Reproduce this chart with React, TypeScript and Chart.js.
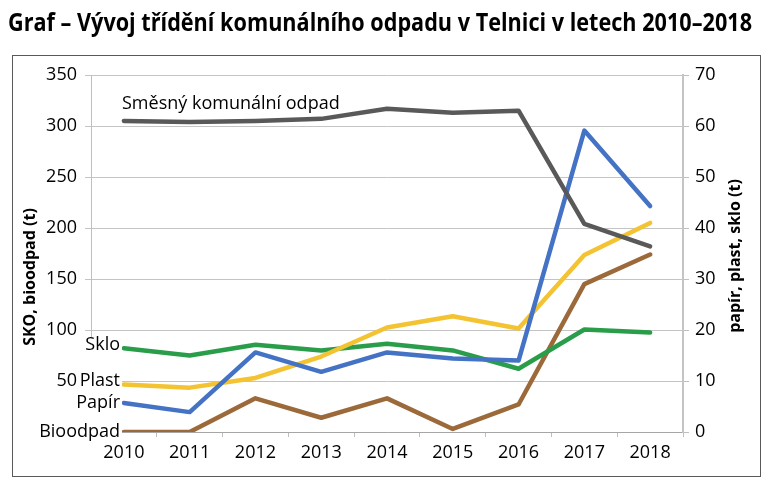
import React, { useEffect, useRef } from "react";
import { Chart, registerables } from "chart.js";

Chart.register(...registerables);

const TITLE = "Graf – Vývoj třídění komunálního odpadu v Telnici v letech 2010–2018";
const years = ["2010", "2011", "2012", "2013", "2014", "2015", "2016", "2017", "2018"];
const smesny = [305, 304, 305, 307, 317, 313, 315, 204, 182];
const bioodpad = [0, 0, 33, 14, 33, 3, 27, 145, 174];
const papir = [5.7, 3.9, 15.6, 11.8, 15.6, 14.4, 14, 59.1, 44.3];
const plast = [9.3, 8.7, 10.6, 14.8, 20.5, 22.7, 20.3, 34.7, 41];
const sklo = [16.4, 15, 17.1, 16, 17.3, 16, 12.4, 20.1, 19.5];
const leftTicks = [0, 50, 100, 150, 200, 250, 300, 350];
const rightTicks = [0, 10, 20, 30, 40, 50, 60, 70];

const FONT = "'Open Sans', 'Noto Sans', sans-serif";

const decor = {
  id: "decor",
  afterDraw(chart: any) {
    const ctx = chart.ctx;
    ctx.save();
    // frame
    ctx.strokeStyle = "#595959";
    ctx.lineWidth = 1;
    ctx.strokeRect(12.5, 55.5, 748, 421);
    // title
    ctx.fillStyle = "#000";
    ctx.font = "bold 25px " + FONT;
    ctx.textAlign = "left";
    ctx.textBaseline = "middle";
    ctx.fillText(TITLE, 8, 24, 744);
    // cover left-bottom axis area for series labels
    ctx.fillStyle = "#fff";
    ctx.fillRect(80, 337, 42, 105);
    ctx.fillRect(40, 420, 82, 22);
    // series labels
    ctx.fillStyle = "#000";
    ctx.font = "18px " + FONT;
    ctx.textAlign = "right";
    const y50 = chart.scales.y.getPixelForValue(50);
    const labels: [number, string, number | null][] = [
      [3, "Sklo", -3],
      [2, "Plast", null],
      [1, "Papír", 0],
      [4, "Bioodpad", 0],
    ];
    for (const [idx, txt, dy] of labels) {
      const p = chart.getDatasetMeta(idx).data[0];
      const yy = dy === null ? y50 : p.y + dy;
      ctx.fillText(txt, 120, yy);
    }
    const p0 = chart.getDatasetMeta(0).data[0];
    ctx.textAlign = "left";
    ctx.fillText("Směsný komunální odpad", 122, p0.y - 17);
    // axis titles
    ctx.font = "bold 16px " + FONT;
    ctx.textAlign = "center";
    ctx.save();
    ctx.translate(30, 277);
    ctx.rotate(-Math.PI / 2);
    ctx.fillText("SKO, bioodpad (t)", 0, 0);
    ctx.restore();
    ctx.save();
    ctx.translate(735, 256);
    ctx.rotate(-Math.PI / 2);
    ctx.fillText("papír, plast, sklo (t)", 0, 0);
    ctx.restore();
    ctx.restore();
  },
};

export default function App() {
  const ref = useRef<HTMLCanvasElement>(null);
  useEffect(() => {
    const line = (label: string, data: number[], color: string, axis: string) => ({
      label,
      data,
      borderColor: color,
      backgroundColor: color,
      borderWidth: 4.5,
      pointRadius: 0,
      tension: 0,
      borderCapStyle: "round" as const,
      borderJoinStyle: "round" as const,
      yAxisID: axis,
    });
    const chart = new Chart(ref.current!, {
      type: "line",
      data: {
        labels: years,
        datasets: [
          line("Směsný komunální odpad", smesny, "#595959", "y"),
          line("Papír", papir, "#4472C4", "y1"),
          line("Plast", plast, "#F3C331", "y1"),
          line("Sklo", sklo, "#2A9D4A", "y1"),
          line("Bioodpad", bioodpad, "#9C6A3A", "y"),
        ],
      },
      options: {
        animation: false,
        responsive: false,
        devicePixelRatio: 1,
        layout: { padding: { top: 75, left: 0, right: 0, bottom: 0 } },
        plugins: { legend: { display: false }, tooltip: { enabled: false }, title: { display: false } },
        scales: {
          x: {
            offset: true,
            grid: { offset: true, drawOnChartArea: false, drawTicks: true, tickLength: 5, color: "#bfbfbf" },
            border: { color: "#a6a6a6", width: 1 },
            ticks: { color: "#000", font: { family: FONT, size: 18 }, padding: 5, maxRotation: 0 },
            afterFit: (s: any) => { s.height = 55; },
          },
          y: {
            position: "left",
            min: 0,
            max: 350,
            afterBuildTicks: (s: any) => { s.ticks = leftTicks.map((v) => ({ value: v })); },
            ticks: {
              color: "#000",
              font: { family: FONT, size: 18 },
              padding: 8,
              callback: (v: any) => (v === 0 ? "" : String(v)),
            },
            grid: { color: "#c4c4c4", tickLength: 6 },
            border: { color: "#bfbfbf", width: 1 },
            afterFit: (s: any) => { s.width = 91; },
          },
          y1: {
            position: "right",
            min: 0,
            max: 70,
            afterBuildTicks: (s: any) => { s.ticks = rightTicks.map((v) => ({ value: v })); },
            ticks: { color: "#000", font: { family: FONT, size: 18 }, padding: 6 },
            grid: { drawOnChartArea: false, color: "#bfbfbf", tickLength: 6 },
            border: { color: "#c4c4c4", width: 2 },
            afterFit: (s: any) => { s.width = 89; },
          },
        },
      },
      plugins: [decor],
    });
    return () => chart.destroy();
  }, []);
  return (
    <div style={{ position: "fixed", left: 0, top: 0, width: 772, height: 487, background: "#fff" }}>
      <canvas ref={ref} width={772} height={487} style={{ display: "block" }} />
    </div>
  );
}
